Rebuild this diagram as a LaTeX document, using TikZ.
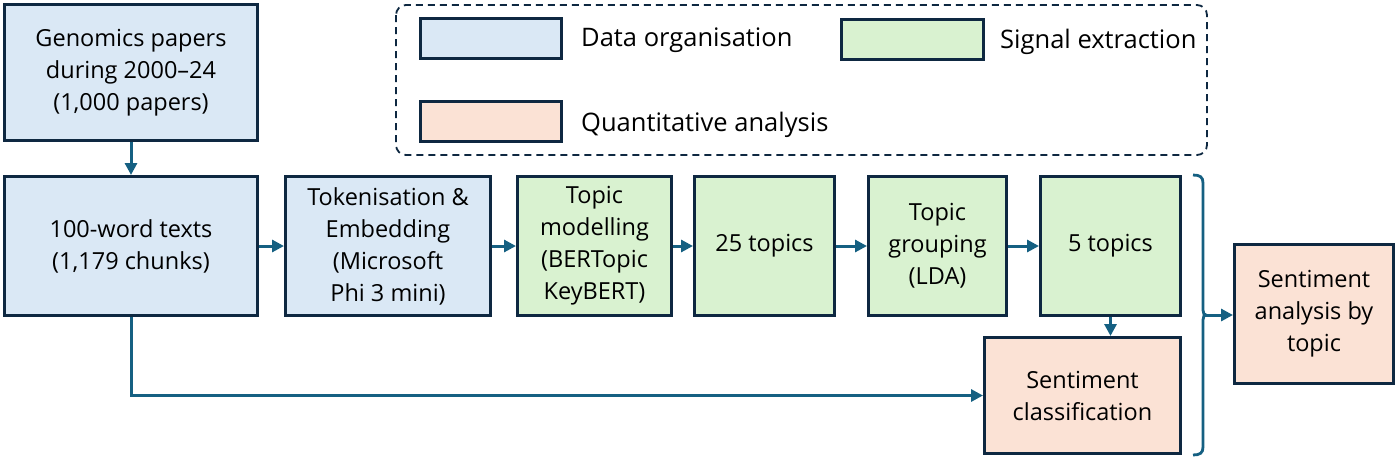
\documentclass[tikz,border=0pt]{standalone}
\usepackage{fontspec}
\setmainfont{Open Sans}
\usetikzlibrary{arrows.meta}
\definecolor{bluefill}{RGB}{218,232,245}
\definecolor{greenfill}{RGB}{217,242,208}
\definecolor{peachfill}{RGB}{251,226,213}
\definecolor{navy}{RGB}{14,40,65}
\definecolor{arrowc}{RGB}{21,96,130}
\tikzset{
  box/.style={draw=navy, line width=3pt, inner sep=0pt, align=center, text=black,
    font=\fontsize{23.5}{32}\selectfont},
  dorg/.style={box, fill=bluefill},
  sig/.style={box, fill=greenfill},
  quant/.style={box, fill=peachfill},
  legtext/.style={anchor=west, inner sep=0pt, text=black, font=\fontsize{25.5}{32}\selectfont},
  conn/.style={draw=arrowc, line width=3pt, -{Triangle[length=12pt,width=12pt]}},
  bracestyle/.style={draw=arrowc, line width=2.8pt},
  legframe/.style={draw=navy, line width=1.8pt, dash pattern=on 7pt off 5pt, rounded corners=10pt}
}
\begin{document}
\begin{tikzpicture}[x=1pt,y=-1pt]
\useasboundingbox (0,0) rectangle (1397,456);
% legend
\draw[legframe] (396,5) rectangle (1207,155);
\node[dorg, minimum width=141pt, minimum height=40pt] (lblue) at (491,38.5) {};
\node[sig, minimum width=142pt, minimum height=40pt] (lgreen) at (912.5,39.5) {};
\node[quant, minimum width=141pt, minimum height=40pt] (lpeach) at (491,121.5) {};
\node[legtext] (tblue) at (581,40) {Data organisation};
\node[legtext] (tgreen) at (1000,42) {Signal extraction};
\node[legtext] (tpeach) at (581,125) {Quantitative analysis};
% main boxes
\node[dorg, minimum width=253pt, minimum height=136pt] (gp) at (131,72.5) {Genomics papers\\during 2000--24\\(1,000 papers)};
\node[dorg, minimum width=253pt, minimum height=139pt] (wt) at (131,246) {100-word texts\\(1,179 chunks)};
\node[dorg, minimum width=205pt, minimum height=139pt] (tok) at (388,246) {Tokenisation \&\\Embedding\\(Microsoft\\Phi 3 mini)};
\node[sig, minimum width=154pt, minimum height=139pt] (tm) at (594.5,246) {Topic\\modelling\\(BERTopic\\KeyBERT)};
\node[sig, minimum width=140pt, minimum height=139pt] (t25) at (764.5,246) {25 topics};
\node[sig, minimum width=138pt, minimum height=139pt] (tg) at (937.5,246) {Topic\\grouping\\(LDA)};
\node[sig, minimum width=140pt, minimum height=139pt] (t5) at (1110.5,246) {5 topics};
\node[quant, minimum width=196pt, minimum height=116pt] (sc) at (1082.5,395.5) {Sentiment\\classification};
\node[quant, minimum width=159pt, minimum height=139pt] (sa) at (1314,314) {Sentiment\\analysis by\\topic};
% connectors
\draw[conn] (gp) -- (wt);
\draw[conn] (wt) -- (tok);
\draw[conn] (tok) -- (tm);
\draw[conn] (tm) -- (t25);
\draw[conn] (t25) -- (tg);
\draw[conn] (tg) -- (t5);
\draw[conn] (t5.south) -- (t5.south |- sc.north);
\draw[conn] (wt.south) |- (sc.west);
% brace
\coordinate (bt) at (1206,315);
\draw[bracestyle] (1193,175) .. controls (1200,175) and (1203,177) .. (1203,183)
  -- (1203,310) .. controls (1203,313) and (1204,315) .. (bt)
  .. controls (1204,315) and (1203,317) .. (1203,320)
  -- (1203,447) .. controls (1203,453) and (1200,455) .. (1193,455);
\draw[conn] (bt) -- (sa.west |- bt);
\end{tikzpicture}
\end{document}
